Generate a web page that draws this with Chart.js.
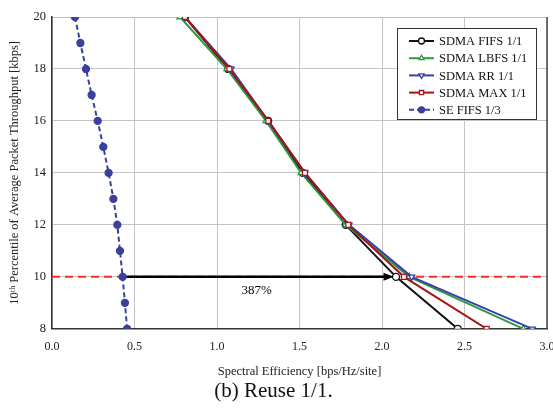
<!DOCTYPE html>
<html>
<head>
<meta charset="utf-8">
<script src="https://cdn.jsdelivr.net/npm/chart.js@4"></script>
<style>
  html, body { margin: 0; padding: 0; background: #fff; }
  #wrap { width: 553px; height: 416px; }
</style>
</head>
<body>
<div id="wrap"><canvas id="chart"></canvas></div>
<script>
// throughput levels (kbps) where the curves were sampled
const tputSdma = [20, 18, 16, 14, 12, 10, 8];
const tputSe = [20, 19, 18, 17, 16, 15, 14, 13, 12, 11, 10, 9, 8];

// spectral efficiency [bps/Hz/site]
const sdmaFifs = [0.806, 1.067, 1.31, 1.52, 1.78, 2.085, 2.459];
const sdmaLbfs = [0.776, 1.06, 1.297, 1.51, 1.78, 2.165, 2.857];
const sdmaRr   = [0.806, 1.085, 1.31, 1.533, 1.80, 2.18, 2.911];
const sdmaMax  = [0.806, 1.075, 1.311, 1.533, 1.796, 2.133, 2.634];
const seFifs   = [0.139, 0.172, 0.206, 0.24, 0.277, 0.311, 0.343, 0.372, 0.396, 0.412, 0.428, 0.442, 0.455];

const xTicks = [0, 0.5, 1.0, 1.5, 2.0, 2.5, 3.0];
const yTicks = [8, 10, 12, 14, 16, 18, 20];

const targetTput = 10;
const arrowFrom = 0.43, arrowTo = 2.07;
const gainLabel = '387%';
const gainPos = { x: 1.24, y: 9.47 };

const serif = "'Liberation Serif', 'DejaVu Serif', serif";

const pts = (xs, ys) => xs.map((x, i) => ({ x: x, y: ys[i] }));

const series = [
  { label: 'SDMA FIFS 1/1', data: pts(sdmaFifs, tputSdma), color: '#111111', style: 'circle', rot: 0, fill: '#ffffff', dash: [], order: 3, r: 3.5 },
  { label: 'SDMA LBFS 1/1', data: pts(sdmaLbfs, tputSdma), color: '#2e9a3e', style: 'triangle', rot: 0, fill: '#ffffff', dash: [], order: 2, r: 3.5 },
  { label: 'SDMA RR 1/1',   data: pts(sdmaRr, tputSdma),   color: '#3343a8', style: 'triangle', rot: 180, fill: '#ffffff', dash: [], order: 1, r: 3.5 },
  { label: 'SDMA MAX 1/1',  data: pts(sdmaMax, tputSdma),  color: '#a3161c', style: 'rect', rot: 0, fill: '#ffffff', dash: [], order: 0, r: 3.5 },
  { label: 'SE FIFS 1/3',   data: pts(seFifs, tputSe),     color: '#3a40a0', style: 'circle', rot: 0, fill: '#3a40a0', dash: [5, 3], order: 4, r: 3.5 }
];

const datasets = series.map(s => ({
  label: s.label,
  data: s.data,
  borderColor: s.color,
  backgroundColor: s.fill,
  borderWidth: 2,
  borderDash: s.dash,
  pointStyle: s.style,
  pointRotation: s.rot,
  pointRadius: s.r,
  pointBorderWidth: 1.3,
  pointBorderColor: s.color,
  pointBackgroundColor: s.fill,
  order: s.order,
  tension: 0
}));

// red dashed target line and black arrow shaft
datasets.push({
  label: 'target', data: [{ x: 0, y: targetTput }, { x: 3, y: targetTput }],
  borderColor: '#ff2a2a', borderWidth: 2, borderDash: [8, 5], pointRadius: 0, order: 10
});
datasets.push({
  label: 'arrow', data: [{ x: arrowFrom, y: targetTput }, { x: arrowTo - 0.03, y: targetTput }],
  borderColor: '#000', borderWidth: 2.5, pointRadius: 0, order: 5
});

const framePlugin = {
  id: 'frame',
  afterDatasetsDraw(chart) {
    const { ctx, chartArea: a, scales: { x, y } } = chart;
    ctx.save();
    // right border
    ctx.strokeStyle = '#444';
    ctx.lineWidth = 1.5;
    ctx.beginPath();
    ctx.moveTo(a.right, a.top);
    ctx.lineTo(a.right, a.bottom);
    ctx.stroke();
    // arrow head
    const tipX = x.getPixelForValue(arrowTo), py = y.getPixelForValue(targetTput);
    ctx.fillStyle = '#000';
    ctx.beginPath();
    ctx.moveTo(tipX, py);
    ctx.lineTo(tipX - 10, py - 4);
    ctx.lineTo(tipX - 10, py + 4);
    ctx.closePath();
    ctx.fill();
    // gain label
    ctx.font = '13px ' + serif;
    ctx.textAlign = 'center';
    ctx.textBaseline = 'middle';
    ctx.fillText(gainLabel, x.getPixelForValue(gainPos.x), y.getPixelForValue(gainPos.y));
    ctx.restore();
  },
  afterDraw(chart) {
    const { ctx } = chart;
    // boxed legend
    const bx = 397, by = 28, bw = 139, bh = 91, rowH = 17.2;
    ctx.save();
    ctx.fillStyle = '#fff';
    ctx.fillRect(bx, by, bw, bh);
    ctx.strokeStyle = '#333';
    ctx.lineWidth = 1;
    ctx.strokeRect(bx + 0.5, by + 0.5, bw, bh);
    series.forEach((s, i) => {
      const cy = by + 13 + i * rowH;
      ctx.strokeStyle = s.color;
      ctx.lineWidth = 2;
      ctx.setLineDash(s.dash);
      ctx.beginPath();
      ctx.moveTo(bx + 12, cy);
      ctx.lineTo(bx + 37, cy);
      ctx.stroke();
      ctx.setLineDash([]);
      ctx.fillStyle = s.fill;
      ctx.lineWidth = 1.3;
      Chart.helpers.drawPoint(ctx, { pointStyle: s.style, rotation: s.rot, radius: 3, borderWidth: 1.3 }, bx + 24.5, cy);
      ctx.fillStyle = '#111';
      ctx.font = '12.5px ' + serif;
      ctx.textAlign = 'left';
      ctx.textBaseline = 'middle';
      ctx.fillText(s.label, bx + 42, cy + 1);
    });
    ctx.restore();
  }
};

new Chart(document.getElementById('chart'), {
  type: 'line',
  data: { datasets: datasets },
  options: {
    responsive: true,
    maintainAspectRatio: false,
    animation: false,
    layout: { padding: { top: 17, right: 6, left: 0, bottom: 12 } },
    plugins: {
      legend: { display: false },
      tooltip: { enabled: false },
      title: {
        display: true,
        position: 'bottom',
        text: '(b) Reuse 1/1.',
        color: '#111',
        font: { family: serif, size: 21, weight: 'normal', lineHeight: 1.2 },
        padding: 0
      }
    },
    scales: {
      x: {
        type: 'linear', min: 0, max: 3,
        afterBuildTicks: s => { s.ticks = xTicks.map(v => ({ value: v })); },
        afterFit: s => { s.height = 50; s.paddingRight = 0; s.paddingLeft = 0; },
        grid: { color: '#c4c4c4', drawTicks: false, lineWidth: 1 },
        border: { color: '#333', width: 1.5 },
        ticks: { padding: 11, color: '#222', font: { family: serif, size: 12 }, callback: v => Number(v).toFixed(1) },
        title: { display: true, text: 'Spectral Efficiency [bps/Hz/site]', color: '#222', font: { family: serif, size: 12.5 }, padding: { top: 4, bottom: 0 } }
      },
      y: {
        type: 'linear', min: 8, max: 20,
        afterBuildTicks: s => { s.ticks = yTicks.map(v => ({ value: v })); },
        afterFit: s => { s.width = 52; s.paddingTop = 0; s.paddingBottom = 0; },
        grid: { color: '#c4c4c4', drawTicks: false, lineWidth: 1 },
        border: { color: '#333', width: 1.5 },
        ticks: { padding: 6, color: '#222', font: { family: serif, size: 12.5 }, callback: v => String(v) },
        title: { display: true, text: '10ᵗʰ Percentile of Average Packet Throughput [kbps]', color: '#222', font: { family: serif, size: 12.5 }, padding: { top: 7, bottom: 0 } }
      }
    }
  },
  plugins: [framePlugin]
});
</script>
</body>
</html>
